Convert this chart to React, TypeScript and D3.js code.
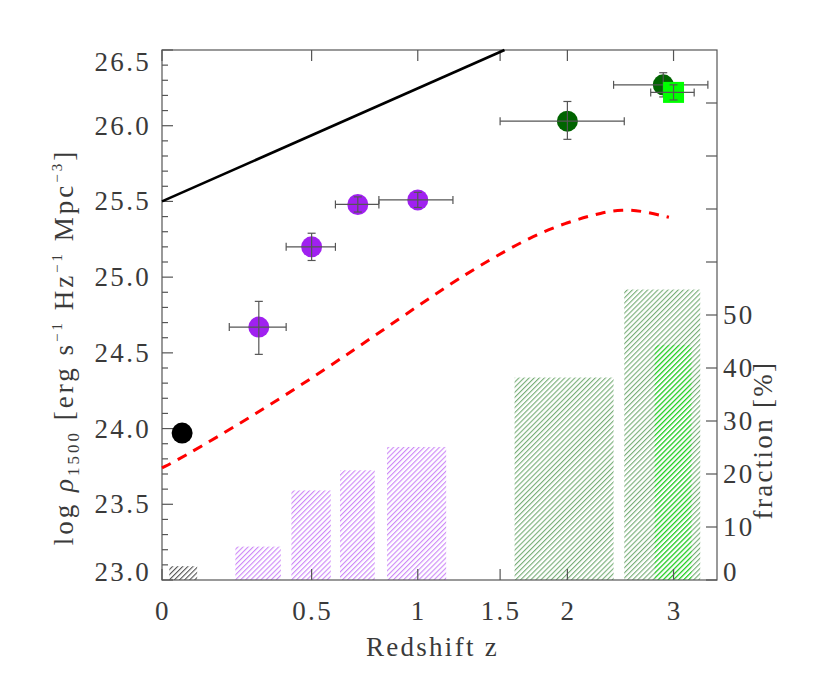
import { useEffect, useRef } from 'react';
import * as d3 from 'd3';

// frame (pixels)
const W = 830, H = 684;
const M = { left: 162, right: 717, top: 50, bottom: 580 };

// x ticks (redshift, drawn on a log(1+z) axis)
const xTicks = [0, 0.5, 1, 1.5, 2, 3];
const xTickLabels = ['0', '0.5', '1', '1.5', '2', '3'];
// left axis: log rho_1500
const yMajor = [23.0, 23.5, 24.0, 24.5, 25.0, 25.5, 26.0, 26.5];
// right axis: fraction [%]
const fracTicks = [0, 10, 20, 30, 40, 50, 60, 70, 80, 90];
const fracLabels = [0, 10, 20, 30, 40, 50];

// local point (z ~ 0)
const localZ = [0.056];
const localRho = [23.97];

// purple points
const purpleZ = [0.30, 0.50, 0.70, 1.00];
const purpleRho = [24.67, 25.20, 25.48, 25.51];
const purpleZLo = [0.20, 0.40, 0.60, 0.80];
const purpleZHi = [0.40, 0.60, 0.80, 1.20];
const purpleRhoLo = [24.49, 25.11, 25.43, 25.46];
const purpleRhoHi = [24.84, 25.29, 25.53, 25.56];

// dark green points
const greenZ = [2.0, 2.89];
const greenRho = [26.03, 26.27];
const greenZLo = [1.5, 2.4];
const greenZHi = [2.5, 3.39];
const greenRhoLo = [25.91, 26.19];
const greenRhoHi = [26.16, 26.35];

// light green square
const limeZ = [3.0];
const limeRho = [26.22];
const limeZLo = [2.76];
const limeZHi = [3.23];
const limeRhoLo = [26.17];
const limeRhoHi = [26.27];

// solid black line
const blackZ = [0, 1.53];
const blackRho = [25.5, 26.5];

// red dashed curve
const redZ = [0, 0.05, 0.268, 0.547, 0.852, 1.10, 1.279, 1.459, 1.704, 1.985, 2.311, 2.478, 2.656, 2.95];
const redRho = [23.74, 23.80, 24.07, 24.38, 24.68, 24.89, 25.02, 25.13, 25.26, 25.36, 25.43, 25.445, 25.44, 25.395];

// hatched fraction bars
const barZLo = [0.02, 0.22, 0.42, 0.62, 0.84, 1.6, 2.5, 2.8];
const barZHi = [0.10, 0.38, 0.58, 0.78, 1.16, 2.4, 3.3, 3.2];
const barFrac = [2.6, 6.3, 16.9, 20.7, 25.1, 38.2, 54.8, 44.3];
const barGroup = ['black', 'purple', 'purple', 'purple', 'purple', 'green', 'green', 'lime'];

const FONT = '"Liberation Serif", serif';
const TXT = '#3a3a3a';
const FS = 27;
const LS = 2.3;

export default function App() {
  const svgRef = useRef<SVGSVGElement>(null);

  useEffect(() => {
    const svg = d3.select(svgRef.current);
    svg.selectAll('*').remove();

    const x = d3.scaleLog().domain([1, 4.5]).range([M.left, M.right]);
    const xz = (z: number) => x(1 + z);
    const y = d3.scaleLinear().domain([23, 26.5]).range([M.bottom, M.top]);
    const yf = d3.scaleLinear().domain([0, 100]).range([M.bottom, M.top]);

    // hatch patterns
    const defs = svg.append('defs');
    const hatch: Record<string, string> = {
      black: 'rgba(0,0,0,0.75)',
      purple: 'rgba(160,32,240,0.6)',
      green: 'rgba(0,100,0,0.6)',
      lime: 'rgba(0,230,0,0.8)',
    };
    Object.entries(hatch).forEach(([k, c]) => {
      const p = defs.append('pattern')
        .attr('id', `hatch-${k}`).attr('patternUnits', 'userSpaceOnUse')
        .attr('width', 3.6).attr('height', 3.6).attr('patternTransform', 'rotate(45)');
      p.append('line').attr('x1', 0.6).attr('x2', 0.6).attr('y1', 0).attr('y2', 3.6)
        .attr('stroke', c).attr('stroke-width', 1);
    });

    const g = svg.append('g');

    // bars
    barFrac.forEach((f, i) => {
      g.append('rect')
        .attr('x', xz(barZLo[i])).attr('width', xz(barZHi[i]) - xz(barZLo[i]))
        .attr('y', yf(f)).attr('height', yf(0) - yf(f))
        .attr('fill', `url(#hatch-${barGroup[i]})`);
    });

    // frame
    g.append('rect').attr('x', M.left).attr('y', M.top)
      .attr('width', M.right - M.left).attr('height', M.bottom - M.top)
      .attr('fill', 'none').attr('stroke', '#555').attr('stroke-width', 1.2);

    const tick = (x1: number, y1: number, x2: number, y2: number) =>
      g.append('line').attr('x1', x1).attr('y1', y1).attr('x2', x2).attr('y2', y2)
        .attr('stroke', '#555').attr('stroke-width', 1.2);

    const label = (px: number, py: number, s: string, anchor: string) =>
      g.append('text').attr('x', px).attr('y', py).attr('text-anchor', anchor)
        .attr('font-family', FONT).attr('font-size', FS).attr('letter-spacing', LS)
        .attr('fill', TXT).text(s);

    // x ticks top and bottom
    xTicks.forEach((t, i) => {
      const px = xz(t);
      tick(px, M.bottom, px, M.bottom - 11);
      tick(px, M.top, px, M.top + 11);
      label(px + 1, M.bottom + 40, xTickLabels[i], 'middle');
    });

    // left y ticks
    d3.range(230, 266).map(v => v / 10).forEach(v => {
      const major = Math.abs(v * 2 - Math.round(v * 2)) < 1e-6;
      tick(M.left, y(v), M.left + (major ? 11 : 6), y(v));
    });
    yMajor.forEach((v, i) => {
      // end labels are nudged inside the axis range
      const off = i === 0 ? -8 : i === yMajor.length - 1 ? 12 : 0;
      label(151, y(v) + 9 + off, v.toFixed(1), 'end');
    });

    // right y ticks (fraction)
    fracTicks.forEach(v => tick(M.right, yf(v), M.right - 11, yf(v)));
    fracLabels.forEach((v, i) => {
      label(723, yf(v) + 9 + (i === 0 ? -8 : 0), String(v), 'start');
    });

    // black line
    const line = d3.line<[number, number]>().x(d => xz(d[0])).y(d => y(d[1]));
    g.append('path').datum(blackZ.map((z, i) => [z, blackRho[i]] as [number, number]))
      .attr('d', line).attr('fill', 'none').attr('stroke', '#000').attr('stroke-width', 2.6);

    // red dashed curve
    const curve = d3.line<[number, number]>().x(d => xz(d[0])).y(d => y(d[1])).curve(d3.curveBasis);
    g.append('path').datum(redZ.map((z, i) => [z, redRho[i]] as [number, number]))
      .attr('d', curve).attr('fill', 'none').attr('stroke', '#ff0000')
      .attr('stroke-width', 3).attr('stroke-dasharray', '10,8');

    const errBars = (zc: number, r: number, zl: number, zh: number, rl: number, rh: number) => {
      const c = '#555';
      const cx = xz(zc), cy = y(r);
      const seg = (a: number, b: number, c2: number, d: number) =>
        g.append('line').attr('x1', a).attr('y1', b).attr('x2', c2).attr('y2', d)
          .attr('stroke', c).attr('stroke-width', 1.2);
      seg(xz(zl), cy, xz(zh), cy);
      seg(xz(zl), cy - 4, xz(zl), cy + 4);
      seg(xz(zh), cy - 4, xz(zh), cy + 4);
      seg(cx, y(rl), cx, y(rh));
      seg(cx - 4, y(rl), cx + 4, y(rl));
      seg(cx - 4, y(rh), cx + 4, y(rh));
    };

    // local point
    localZ.forEach((z, i) => {
      g.append('circle').attr('cx', xz(z)).attr('cy', y(localRho[i])).attr('r', 10.5).attr('fill', '#000');
    });

    // purple points
    purpleZ.forEach((z, i) => {
      g.append('circle').attr('cx', xz(z)).attr('cy', y(purpleRho[i])).attr('r', 10.5).attr('fill', '#a020f0');
      errBars(z, purpleRho[i], purpleZLo[i], purpleZHi[i], purpleRhoLo[i], purpleRhoHi[i]);
    });

    // dark green points
    greenZ.forEach((z, i) => {
      g.append('circle').attr('cx', xz(z)).attr('cy', y(greenRho[i])).attr('r', 10.5).attr('fill', '#006400');
      errBars(z, greenRho[i], greenZLo[i], greenZHi[i], greenRhoLo[i], greenRhoHi[i]);
    });

    // light green square
    limeZ.forEach((z, i) => {
      g.append('rect').attr('x', xz(z) - 10.5).attr('y', y(limeRho[i]) - 10.5)
        .attr('width', 21).attr('height', 21).attr('fill', '#00ff00');
      errBars(z, limeRho[i], limeZLo[i], limeZHi[i], limeRhoLo[i], limeRhoHi[i]);
    });

    // axis titles
    label((M.left + M.right) / 2 - 7, 656, 'Redshift z', 'middle');

    const yt = g.append('text').attr('transform', 'translate(73,347) rotate(-90)')
      .attr('text-anchor', 'middle').attr('font-family', FONT).attr('font-size', FS)
      .attr('letter-spacing', 3).attr('fill', TXT);
    yt.append('tspan').text('log ');
    yt.append('tspan').attr('font-style', 'italic').text('ρ');
    yt.append('tspan').attr('font-size', 17).attr('dy', 6).text('1500');
    yt.append('tspan').attr('dy', -6).text(' [erg s');
    yt.append('tspan').attr('font-size', 15).attr('dy', -11).text('−1');
    yt.append('tspan').attr('dy', 11).text(' Hz');
    yt.append('tspan').attr('font-size', 15).attr('dy', -11).text('−1');
    yt.append('tspan').attr('dy', 11).text(' Mpc');
    yt.append('tspan').attr('font-size', 15).attr('dy', -11).text('−3');
    yt.append('tspan').attr('dy', 11).text(']');

    g.append('text').attr('transform', 'translate(772,440) rotate(-90)')
      .attr('text-anchor', 'middle').attr('font-family', FONT).attr('font-size', FS)
      .attr('letter-spacing', LS).attr('fill', TXT).text('fraction [%]');
  }, []);

  return (
    <svg ref={svgRef} width={W} height={H}
      style={{ position: 'absolute', left: 0, top: 0, background: '#fff' }} />
  );
}
